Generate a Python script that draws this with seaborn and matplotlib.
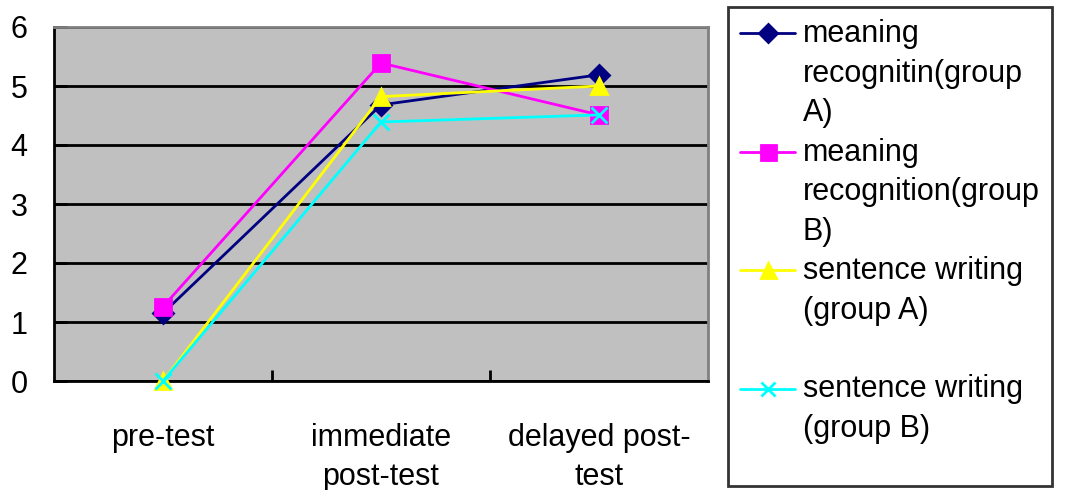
import matplotlib
matplotlib.use("Agg")
import matplotlib.pyplot as plt
import seaborn as sns
from matplotlib.lines import Line2D

# dados
etapas = ["pre-test", "immediate\npost-test", "delayed post-\ntest"]
meaning_a = [1.15, 4.68, 5.19]
meaning_b = [1.26, 5.39, 4.51]
sentence_a = [0.0, 4.82, 5.0]
sentence_b = [0.0, 4.39, 4.51]

legend_lines = [
    ["meaning", "recognitin(group", "A)"],
    ["meaning", "recognition(group", "B)"],
    ["sentence writing", "(group A)", " "],
    ["sentence writing", "(group B)", " "],
]

series = [
    (meaning_a, "#000080", "D", 10),
    (meaning_b, "#FF00FF", "s", 12),
    (sentence_a, "#FFFF00", "^", 12),
    (sentence_b, "#00FFFF", "x", 11),
]

sns.set_theme(style="white")
plt.rcParams["font.family"] = ["Liberation Sans", "DejaVu Sans"]
plt.rcParams["text.color"] = "black"
plt.rcParams["xtick.color"] = "black"
plt.rcParams["ytick.color"] = "black"

fig = plt.figure(figsize=(10.76, 4.9), dpi=100)
ax = fig.add_axes([54 / 1076, 109 / 490, 654 / 1076, 354 / 490])
ax.set_facecolor("#C0C0C0")

x = list(range(len(etapas)))
for valores, cor, marcador, tam in series:
    sns.lineplot(x=x, y=valores, ax=ax, color=cor, marker=marcador,
                 markersize=tam, markeredgecolor=cor, markeredgewidth=2,
                 linewidth=2, legend=False, clip_on=False, zorder=3)

ax.set_xlim(-0.5, 2.5)
ax.set_ylim(0, 6)
ax.set_yticks(range(0, 7))
ax.set_xticks(x)
ax.set_xticklabels(etapas, fontsize=22, linespacing=1.4)
ax.set_xticks([0.5, 1.5], minor=True)
ax.tick_params(axis="x", which="major", length=0, pad=30)
ax.tick_params(axis="x", which="minor", direction="in", length=8, width=2,
               color="black", bottom=True)
ax.tick_params(axis="y", direction="in", length=9, width=2, color="black",
               labelsize=22, pad=19, left=True)
ax.set_xlabel("")
ax.set_ylabel("")

ax.yaxis.grid(True, color="black", linewidth=2)
ax.set_axisbelow(True)
for lado in ["left", "bottom"]:
    ax.spines[lado].set_color("black")
    ax.spines[lado].set_linewidth(2)
for lado in ["top", "right"]:
    ax.spines[lado].set_color("#808080")
    ax.spines[lado].set_linewidth(2)

# legenda: uma linha por linha de texto, marcador só na primeira
handles, labels = [], []
for (valores, cor, marcador, tam), linhas in zip(series, legend_lines):
    for i, txt in enumerate(linhas):
        if i == 0:
            h = Line2D([], [], color=cor, marker=marcador, markersize=tam * 0.9,
                       markeredgecolor=cor, markeredgewidth=2, linewidth=2)
        else:
            h = Line2D([], [], linestyle="none")
        handles.append(h)
        labels.append(txt)

leg = fig.legend(handles, labels, loc="upper left",
                 bbox_to_anchor=(728 / 1076, 1 - 7 / 490),
                 bbox_transform=fig.transFigure, fontsize=22,
                 frameon=True, fancybox=False, borderaxespad=0,
                 handlelength=1.8, handletextpad=0.25, borderpad=0.4,
                 labelspacing=0.31, handleheight=0.3)
leg.get_frame().set_edgecolor("black")
leg.get_frame().set_linewidth(2)
leg.get_texts()[-1].set_fontsize(9)

fig.savefig("out.png", dpi=100, facecolor="white")
